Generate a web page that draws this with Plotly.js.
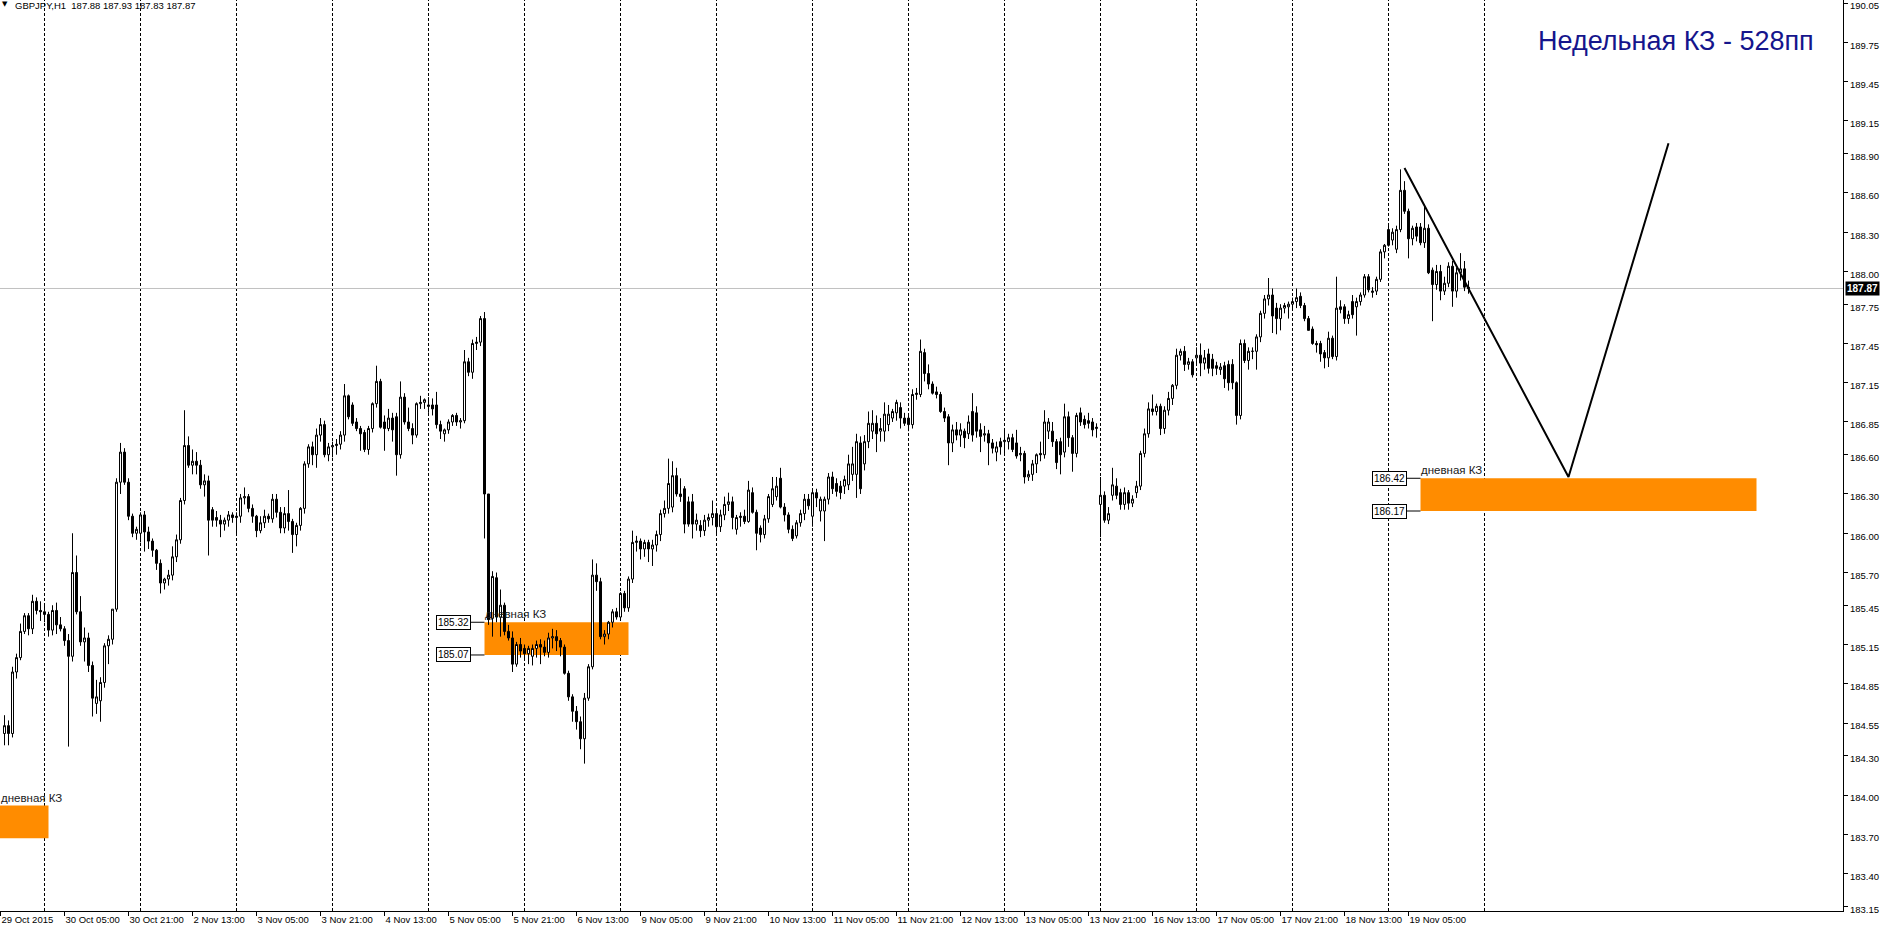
<!DOCTYPE html>
<html><head><meta charset="utf-8">
<script src="https://cdn.plot.ly/plotly-3.0.1.min.js"></script>
<style>html,body{margin:0;padding:0;background:#fff;overflow:hidden}#chart{width:1885px;height:931px}</style>
</head><body><div id="chart"></div>
<script>
// GBPJPY H1 — bar index 0 = 30 Oct 00:00 (trading hours only)
const firstBar = -10;
const open = [
184.47,184.53,184.47,184.94,185.05,185.25,185.37,185.27,185.48,185.41,
185.40,185.38,185.26,185.41,185.30,185.27,185.18,185.06,185.70,185.40,185.17,185.20,184.99,184.70,184.72,184.86,185.14,185.19,185.42,186.39,186.62,186.39,186.13,186.00,
186.00,186.14,186.01,185.94,185.87,185.77,185.62,185.65,185.68,185.82,185.95,186.25,186.67,186.52,186.55,186.52,186.37,186.40,186.18,186.12,186.10,186.07,186.10,186.14,
186.12,186.13,186.27,186.28,186.19,186.13,186.02,186.08,186.13,186.11,186.26,186.16,186.04,186.15,186.09,185.99,186.06,186.19,186.53,186.66,186.60,186.75,186.83,186.60,
186.66,186.67,186.68,186.75,187.05,186.98,186.85,186.80,186.77,186.64,186.80,186.99,187.16,186.85,186.80,186.88,186.89,186.60,187.04,186.85,186.80,186.75,186.99,187.00,
186.98,186.98,186.98,186.83,186.76,186.79,186.85,186.90,186.85,186.86,187.31,187.23,187.45,187.46,187.64,186.30,185.35,185.66,185.36,185.45,185.25,185.20,185.00,185.15,
185.12,185.08,185.06,185.12,185.15,185.13,185.09,185.20,185.21,185.18,185.13,184.93,184.75,184.64,184.56,184.43,184.74,184.98,185.68,185.63,185.21,185.23,185.32,185.40,
185.36,185.54,185.43,185.65,185.93,185.94,185.88,185.93,185.88,185.91,185.99,186.15,186.19,186.20,186.44,186.30,186.34,186.24,186.24,186.07,186.06,186.02,186.10,186.12,
186.15,186.05,186.14,186.22,186.24,186.03,186.12,186.13,186.09,186.31,186.16,186.04,185.99,186.11,186.22,186.28,186.42,186.20,186.14,186.03,185.98,186.08,186.15,186.26,
186.13,186.31,186.17,186.17,186.26,186.43,186.38,186.36,186.36,186.37,186.45,186.45,186.69,186.53,186.70,186.78,186.84,186.78,186.78,186.83,186.88,186.92,186.96,186.88,
186.88,186.83,187.06,187.06,187.38,187.22,187.14,187.08,187.06,186.93,186.89,186.69,186.79,186.75,186.78,186.76,186.93,186.92,186.79,186.75,186.76,186.69,186.62,186.70,
186.70,186.70,186.73,186.69,186.60,186.61,186.43,186.45,186.53,186.61,186.60,186.78,186.78,186.70,186.70,186.62,186.89,186.73,186.61,186.92,186.87,186.86,186.85,186.80,
186.22,186.29,186.10,186.29,186.36,186.31,186.22,186.31,186.23,186.31,186.36,186.61,186.76,186.95,186.93,186.97,186.80,186.94,187.03,187.13,187.36,187.39,187.29,187.31,
187.34,187.36,187.30,187.37,187.33,187.28,187.25,187.28,187.29,187.29,187.15,186.90,187.45,187.32,187.39,187.39,187.50,187.68,187.79,187.82,187.72,187.64,187.72,187.73,
187.75,187.77,187.81,187.74,187.64,187.56,187.45,187.45,187.38,187.34,187.49,187.35,187.73,187.73,187.64,187.77,187.73,187.77,187.82,187.96,187.84,187.85,187.94,188.15,
188.32,188.24,188.17,188.32,188.62,188.46,188.25,188.34,188.34,188.22,188.33,188.01,187.90,188.00,187.85,187.91,188.04,187.85,187.99,188.02,187.88
];
const high = [
184.61,184.57,184.98,185.08,185.31,185.39,185.39,185.53,185.51,185.48,
185.46,185.40,185.45,185.47,185.36,185.29,185.23,186.00,185.83,185.52,185.28,185.24,185.02,184.88,184.90,185.16,185.22,185.42,186.42,186.69,186.65,186.42,186.15,186.05,
186.16,186.17,186.05,185.96,185.88,185.80,185.66,185.72,185.90,185.99,186.27,186.94,186.74,186.64,186.62,186.56,186.45,186.44,186.20,186.17,186.14,186.12,186.17,186.16,
186.16,186.30,186.35,186.30,186.22,186.14,186.13,186.18,186.15,186.30,186.30,186.20,186.20,186.33,186.11,186.08,186.20,186.55,186.68,186.70,186.80,186.88,186.86,186.69,
186.70,186.72,186.78,187.14,187.06,187.00,186.88,186.82,186.79,186.82,187.00,187.28,187.18,186.90,186.95,186.92,186.92,187.16,187.07,186.96,186.84,187.00,187.05,187.03,
187.04,187.03,187.08,186.86,186.80,186.87,186.91,186.92,186.88,187.40,187.34,187.48,187.50,187.66,187.69,186.30,185.71,185.70,185.57,185.47,185.30,185.25,185.17,185.20,
185.15,185.14,185.15,185.18,185.19,185.18,185.24,185.27,185.26,185.20,185.15,184.95,184.77,184.68,184.60,184.78,185.00,185.80,185.77,185.66,185.26,185.33,185.42,185.43,
185.55,185.56,185.67,186.02,185.98,185.96,185.95,185.95,185.95,186.02,186.18,186.25,186.57,186.55,186.50,186.42,186.36,186.28,186.30,186.15,186.10,186.14,186.15,186.25,
186.17,186.18,186.28,186.31,186.28,186.14,186.16,186.18,186.40,186.35,186.18,186.06,186.14,186.30,186.43,186.43,186.50,186.23,186.16,186.06,186.10,186.18,186.30,186.30,
186.33,186.34,186.28,186.28,186.46,186.47,186.42,186.40,186.44,186.60,186.66,186.76,186.74,186.75,186.93,186.94,186.90,186.88,187.00,186.98,186.95,187.02,187.00,186.92,
186.90,187.10,187.11,187.48,187.41,187.29,187.16,187.12,187.08,186.96,186.91,186.83,186.85,186.84,186.80,186.90,187.07,186.97,186.84,186.82,186.79,186.72,186.70,186.73,
186.80,186.76,186.76,186.79,186.66,186.63,186.48,186.56,186.61,186.70,186.94,186.88,186.85,186.72,186.73,186.99,186.93,186.75,186.92,186.96,186.90,186.92,186.88,186.84,
186.43,186.32,186.20,186.50,186.42,186.34,186.35,186.33,186.29,186.40,186.63,186.80,187.00,187.06,186.99,186.99,186.97,187.08,187.14,187.41,187.41,187.43,187.34,187.33,
187.42,187.45,187.40,187.41,187.37,187.31,187.30,187.31,187.32,187.33,187.16,187.48,187.48,187.42,187.42,187.52,187.70,187.82,187.95,187.87,187.76,187.75,187.76,187.77,
187.80,187.87,187.84,187.76,187.66,187.58,187.47,187.47,187.40,187.54,187.51,187.96,187.78,187.75,187.70,187.82,187.80,187.84,187.98,187.98,187.88,187.96,188.17,188.21,
188.36,188.33,188.35,188.78,188.69,188.48,188.35,188.37,188.37,188.51,188.36,188.03,188.05,188.05,187.96,188.07,188.08,188.03,188.14,188.08,187.93
];
const low = [
184.38,184.38,184.44,184.89,185.03,185.23,185.22,185.23,185.38,185.33,
185.32,185.21,185.22,185.23,185.25,185.14,184.37,185.02,185.38,185.14,185.02,184.94,184.60,184.62,184.56,184.82,185.00,185.15,185.40,186.30,186.37,186.10,185.97,185.95,
185.93,185.86,185.88,185.82,185.72,185.54,185.57,185.60,185.64,185.78,185.92,186.22,186.50,186.45,186.45,186.34,186.28,185.83,186.05,186.05,185.97,186.02,186.05,186.08,
186.00,186.08,186.22,186.16,186.08,185.97,186.00,186.04,186.08,186.08,186.12,186.00,186.00,186.02,185.85,185.90,186.02,186.15,186.50,186.52,186.50,186.70,186.58,186.55,
186.58,186.60,186.64,186.70,186.87,186.82,186.78,186.63,186.62,186.60,186.77,186.96,186.80,186.63,186.78,186.70,186.44,186.57,186.83,186.78,186.68,186.73,186.95,186.95,
186.92,186.90,186.80,186.72,186.70,186.76,186.82,186.82,186.80,186.84,187.20,187.18,187.40,187.43,185.96,185.30,185.21,185.32,185.21,185.22,185.18,184.94,184.98,185.05,
185.03,185.00,184.99,185.05,185.00,185.06,185.05,185.12,185.10,185.06,184.92,184.72,184.56,184.50,184.35,184.24,184.72,184.96,185.56,185.19,185.15,185.19,185.28,185.34,
185.33,185.40,185.40,185.62,185.86,185.80,185.82,185.78,185.75,185.86,185.94,186.12,186.15,186.16,186.28,186.24,186.00,186.05,185.96,186.02,185.97,185.98,186.05,186.06,
186.00,186.01,186.10,186.17,186.03,185.99,186.05,186.07,186.08,186.15,185.87,185.93,185.96,186.08,186.20,186.25,186.19,186.09,186.00,185.94,185.96,186.05,186.10,186.18,
186.05,186.20,186.09,185.94,186.22,186.30,186.28,186.26,186.30,186.33,186.40,186.27,186.30,186.48,186.65,186.72,186.62,186.70,186.70,186.78,186.85,186.86,186.80,186.82,
186.78,186.80,187.02,187.04,187.16,187.10,187.06,187.03,186.92,186.85,186.52,186.62,186.71,186.66,186.65,186.72,186.70,186.73,186.62,186.70,186.52,186.61,186.55,186.60,
186.60,186.64,186.62,186.57,186.55,186.38,186.40,186.40,186.46,186.55,186.57,186.72,186.66,186.49,186.45,186.58,186.66,186.47,186.58,186.82,186.80,186.80,186.74,186.73,
185.97,186.08,186.07,186.25,186.26,186.18,186.18,186.18,186.20,186.27,186.33,186.58,186.73,186.90,186.90,186.75,186.76,186.90,186.98,187.10,187.32,187.24,187.25,187.19,
187.30,187.20,187.25,187.22,187.20,187.21,187.21,187.11,187.09,187.10,186.83,186.87,187.30,187.25,187.33,187.25,187.46,187.64,187.74,187.53,187.52,187.55,187.68,187.64,
187.70,187.72,187.72,187.62,187.55,187.44,187.38,187.31,187.26,187.27,187.33,187.32,187.68,187.60,187.60,187.64,187.51,187.74,187.80,187.84,187.80,187.82,187.92,188.10,
188.19,188.20,188.14,188.30,188.44,188.10,188.20,188.23,188.20,188.18,187.98,187.62,187.86,187.78,187.82,187.88,187.73,187.80,187.93,187.85,187.83
];
const close = [
184.53,184.47,184.94,185.05,185.25,185.37,185.27,185.48,185.41,185.40,
185.38,185.26,185.41,185.30,185.27,185.18,185.06,185.70,185.40,185.17,185.20,184.99,184.74,184.75,184.86,185.14,185.19,185.42,186.39,186.62,186.39,186.13,186.00,186.03,
186.14,186.01,185.94,185.87,185.77,185.62,185.65,185.68,185.82,185.95,186.25,186.67,186.52,186.55,186.52,186.37,186.40,186.10,186.10,186.10,186.07,186.10,186.14,186.12,
186.13,186.27,186.28,186.19,186.13,186.02,186.08,186.13,186.11,186.26,186.16,186.04,186.15,186.09,185.99,186.06,186.19,186.53,186.66,186.60,186.75,186.83,186.60,186.66,
186.67,186.68,186.75,187.05,186.89,186.84,186.80,186.76,186.64,186.80,186.99,187.16,186.81,186.80,186.88,186.79,186.60,187.04,186.85,186.80,186.75,186.99,187.00,187.02,
186.97,186.95,186.83,186.78,186.79,186.85,186.90,186.85,186.86,187.31,187.23,187.45,187.46,187.64,186.30,185.34,185.67,185.36,185.45,185.25,185.20,185.00,185.15,185.10,
185.08,185.12,185.12,185.15,185.13,185.09,185.20,185.21,185.18,185.13,184.93,184.75,184.64,184.56,184.43,184.74,184.98,185.68,185.63,185.21,185.23,185.32,185.40,185.36,
185.54,185.43,185.65,185.93,185.94,185.88,185.93,185.88,185.91,185.99,186.15,186.19,186.38,186.44,186.30,186.28,186.07,186.07,186.07,186.10,186.02,186.10,186.12,186.15,
186.05,186.14,186.22,186.24,186.12,186.12,186.13,186.09,186.33,186.16,186.00,185.99,186.11,186.28,186.34,186.36,186.20,186.14,186.03,185.96,186.08,186.15,186.26,186.21,
186.31,186.27,186.26,186.26,186.43,186.34,186.32,186.31,186.41,186.53,186.53,186.70,186.34,186.70,186.84,186.84,186.76,186.80,186.91,186.91,186.93,187.00,186.88,186.84,
186.83,187.06,187.07,187.39,187.22,187.14,187.07,187.06,186.93,186.88,186.69,186.79,186.75,186.79,186.73,186.85,186.75,186.78,186.74,186.76,186.69,186.65,186.66,186.66,
186.71,186.73,186.64,186.59,186.61,186.43,186.45,186.53,186.60,186.60,186.85,186.85,186.70,186.54,186.60,186.89,186.73,186.61,186.90,186.85,186.83,186.84,186.79,186.81,
186.29,186.10,186.15,186.37,186.29,186.22,186.31,186.23,186.26,186.36,186.61,186.76,186.95,186.93,186.97,186.80,186.94,187.03,187.13,187.36,187.39,187.29,187.31,187.21,
187.36,187.30,187.34,187.26,187.26,187.26,187.27,187.18,187.15,187.15,186.90,187.45,187.32,187.39,187.39,187.50,187.68,187.79,187.82,187.66,187.64,187.72,187.74,187.75,
187.77,187.80,187.74,187.64,187.55,187.45,187.44,187.37,187.34,187.49,187.35,187.72,187.71,187.64,187.67,187.67,187.77,187.82,187.96,187.86,187.85,187.94,188.15,188.20,
188.20,188.30,188.32,188.62,188.46,188.25,188.33,188.27,188.22,188.33,187.99,187.90,188.00,187.85,187.91,188.04,187.85,187.99,188.02,187.88,187.87
];
const daySeparatorBars = [0,24,48,72,96,120,144,168,192,216,240,264,288,312,336,360];
const timeTickBars = [-11,5,21,37,53,69,85,101,117,133,149,165,181,197,213,229,245,261,277,293,309,325,341];
const timeTickLabels = ['29 Oct 2015','30 Oct 05:00','30 Oct 21:00','2 Nov 13:00','3 Nov 05:00','3 Nov 21:00','4 Nov 13:00','5 Nov 05:00','5 Nov 21:00','6 Nov 13:00','9 Nov 05:00','9 Nov 21:00','10 Nov 13:00','11 Nov 05:00','11 Nov 21:00','12 Nov 13:00','13 Nov 05:00','13 Nov 21:00','16 Nov 13:00','17 Nov 05:00','17 Nov 21:00','18 Nov 13:00','19 Nov 05:00'];
const priceTicks = [190.05,189.75,189.45,189.15,188.90,188.60,188.30,188.00,187.75,187.45,187.15,186.85,186.60,186.30,186.00,185.70,185.45,185.15,184.85,184.55,184.30,184.00,183.70,183.40,183.15];
const lastPrice = 187.87;
const headerText = 'GBPJPY,H1  187.88 187.93 187.83 187.87';
const zoneTop = [183.92, 185.32, 186.42];
const zoneBottom = [183.67, 185.07, 186.17];
const zoneFromBar = [-14, 110, 344];
const zoneToBar = [1, 146, 428];
const zoneNameBar = [-11, 110, 344];
const zoneName = 'дневная КЗ';
const zonePriceTags = [false, true, true];
const pathBars = [340, 381, 406];
const pathPrices = [188.79, 186.43, 188.98];
const weeklyNote = 'Недельная КЗ - 528пп';

const FONT = 'Liberation Sans, Arial, sans-serif';
const bars = open.map((_, i) => firstBar + i);

const traces = [
  {
    type: 'candlestick', x: bars, open: open, high: high, low: low, close: close,
    increasing: {line: {color: '#000', width: 1}, fillcolor: '#ffffff'},
    decreasing: {line: {color: '#000', width: 1}, fillcolor: '#000000'},
    whiskerwidth: 0, hoverinfo: 'skip', showlegend: false
  },
  {
    type: 'scatter', mode: 'lines', x: pathBars, y: pathPrices,
    line: {color: '#000', width: 2}, hoverinfo: 'skip', showlegend: false
  }
];

const shapes = [];
const annotations = [];
zoneTop.forEach((t, i) => {
  shapes.push({type: 'rect', xref: 'x', yref: 'y', x0: zoneFromBar[i], x1: zoneToBar[i], y0: zoneBottom[i], y1: t,
    fillcolor: '#FF8C00', line: {width: 0}, layer: 'below'});
  annotations.push({xref: 'x', yref: 'y', x: zoneNameBar[i], y: t, xanchor: 'left', yanchor: 'bottom',
    text: zoneName, showarrow: false, font: {family: FONT, size: 11.5, color: '#1a1a1a'}, borderpad: 0, yshift: 1, xshift: -1});
  if (zonePriceTags[i]) {
    [t, zoneBottom[i]].forEach(p => {
      shapes.push({type: 'line', xref: 'x', yref: 'y', xsizemode: 'pixel', xanchor: zoneFromBar[i], x0: -14, x1: 0, y0: p, y1: p,
        line: {color: '#000', width: 1}, layer: 'above'});
      annotations.push({xref: 'x', yref: 'y', x: zoneFromBar[i], y: p, xanchor: 'right', yanchor: 'middle', xshift: -14,
        text: p.toFixed(2), showarrow: false, font: {family: FONT, size: 10, color: '#000'},
        bgcolor: '#fff', bordercolor: '#000', borderwidth: 1, borderpad: 1});
    });
  }
});
daySeparatorBars.forEach(b => {
  shapes.push({type: 'line', xref: 'x', yref: 'paper', x0: b, x1: b, y0: 0, y1: 1,
    line: {color: '#000', width: 1, dash: '3px,2px'}, layer: 'below'});
});
shapes.push({type: 'line', xref: 'paper', yref: 'y', x0: 0, x1: 1, y0: lastPrice, y1: lastPrice,
  line: {color: '#C0C0C0', width: 1}, layer: 'below'});

annotations.push({xref: 'paper', yref: 'y', x: 1, y: lastPrice, xanchor: 'left', yanchor: 'middle', xshift: 2,
  text: '<b>' + lastPrice.toFixed(2) + '</b>', showarrow: false, bgcolor: '#000',
  font: {family: FONT, size: 10, color: '#fff'}, borderpad: 1});
annotations.push({xref: 'paper', yref: 'paper', x: 0, y: 1, xanchor: 'left', yanchor: 'top', xshift: 1, yshift: 1,
  text: '▼', showarrow: false, font: {family: 'DejaVu Sans', size: 7, color: '#000'}, borderpad: 0});
annotations.push({xref: 'paper', yref: 'paper', x: 0, y: 1, xanchor: 'left', yanchor: 'top', xshift: 14, yshift: 1,
  text: headerText.replace(/ /g, '&nbsp;'), showarrow: false, font: {family: FONT, size: 9.5, color: '#000'}, borderpad: 0});
annotations.push({xref: 'paper', yref: 'paper', x: 0.834, y: 0.955, xanchor: 'left', yanchor: 'middle',
  text: weeklyNote, showarrow: false, font: {family: FONT, size: 27, color: '#15158c'}, borderpad: 0});

const layout = {
  width: 1885, height: 931,
  margin: {l: 0, r: 42, t: 0, b: 20, pad: 0},
  paper_bgcolor: '#ffffff', plot_bgcolor: '#ffffff',
  showlegend: false, hovermode: false, dragmode: false,
  boxgap: 0.5, boxgroupgap: 0,
  xaxis: {
    type: 'linear', range: [-11.125, 449.625], rangeslider: {visible: false},
    showgrid: false, zeroline: false, showline: true, linecolor: '#000', linewidth: 1,
    ticks: 'outside', ticklen: 4, tickcolor: '#000', tickwidth: 1,
    tickmode: 'array', tickvals: timeTickBars, ticktext: timeTickLabels, tickangle: 0,
    ticklabelposition: 'outside right', ticklabeloverflow: 'allow',
    tickfont: {family: FONT, size: 9.5, color: '#000'}, fixedrange: true
  },
  yaxis: {
    range: [183.114, 190.074], side: 'right',
    showgrid: false, zeroline: false, showline: true, linecolor: '#000', linewidth: 1,
    ticks: 'outside', ticklen: 4, tickcolor: '#000', tickwidth: 1,
    tickmode: 'array', tickvals: priceTicks, ticktext: priceTicks.map(v => v.toFixed(2)),
    ticklabeloverflow: 'allow', ticklabelshift: 3,
    tickfont: {family: FONT, size: 9.5, color: '#000'}, fixedrange: true
  },
  shapes: shapes,
  annotations: annotations
};
Plotly.newPlot('chart', traces, layout, {displayModeBar: false, staticPlot: true});
</script></body></html>
